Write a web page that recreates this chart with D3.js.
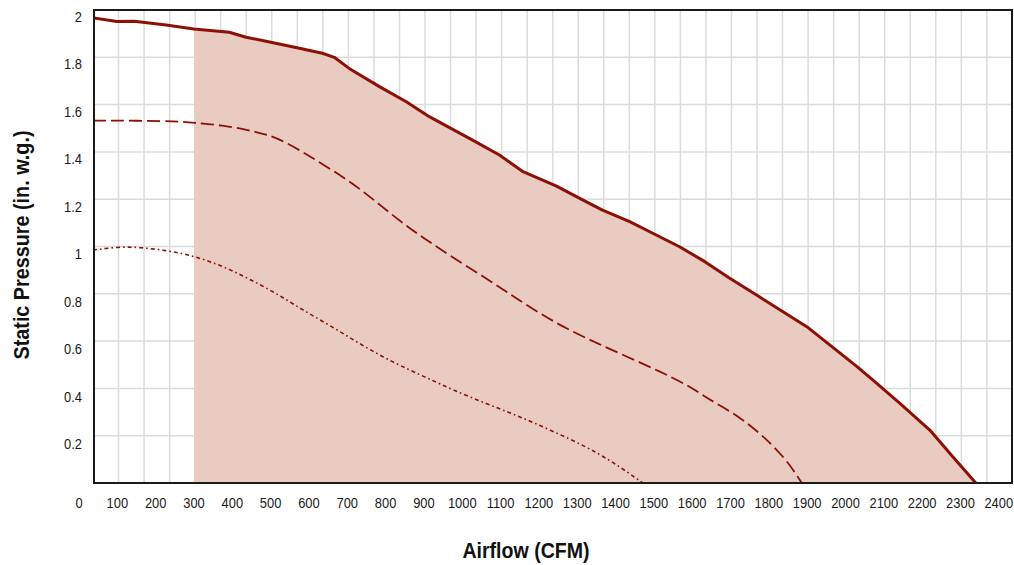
<!DOCTYPE html>
<html><head><meta charset="utf-8">
<script src="https://cdn.jsdelivr.net/npm/d3@7"></script>
<style>html,body{margin:0;padding:0;background:#fff;} svg{display:block;}</style>
</head><body><svg id="chart" width="1014" height="565"></svg>
<script>
// ---------- data ----------
const airflowTicks = [0,100,200,300,400,500,600,700,800,900,1000,1100,1200,1300,1400,1500,1600,1700,1800,1900,2000,2100,2200,2300,2400];
const pressureTicks = [0.2,0.4,0.6,0.8,1,1.2,1.4,1.6,1.8,2];
const pressureTickLabels = ["0.2","0.4","0.6","0.8","1","1.2","1.4","1.6","1.8","2"];

// Max speed curve (solid)
const maxAirflow  = [36.6,99,144,227,300,392,436,488,575,635,666,705,784,854,914,1027,1097,1157,1246,1314,1366,1437,1497,1567,1633,1698,1768,1899,2030,2071,2142,2220,2280,2340];
const maxPressure = [1.967,1.951,1.952,1.937,1.920,1.906,1.885,1.868,1.838,1.817,1.800,1.753,1.676,1.612,1.549,1.450,1.387,1.318,1.255,1.197,1.154,1.105,1.056,0.999,0.936,0.866,0.795,0.661,0.492,0.436,0.337,0.224,0.111,0];

// Medium speed curve (dashed)
const medAirflow  = [36.6,235,300,392,470,515,583,653,724,791,862,914,974,1053,1123,1194,1272,1350,1429,1515,1588,1630,1672,1724,1776,1795,1847,1886];
const medPressure = [1.532,1.532,1.523,1.510,1.481,1.462,1.401,1.331,1.256,1.168,1.077,1.020,0.955,0.875,0.800,0.725,0.652,0.592,0.535,0.472,0.414,0.368,0.328,0.278,0.210,0.182,0.097,0];

// Low speed curve (dash-dot)
const lowAirflow  = [36.6,104,157,235,300,374,444,515,583,653,724,791,862,914,974,1063,1149,1235,1324,1384,1429,1471];
const lowPressure = [0.985,0.999,0.997,0.982,0.960,0.918,0.863,0.802,0.732,0.668,0.597,0.534,0.478,0.440,0.395,0.335,0.282,0.220,0.153,0.097,0.048,0];

const operatingMinAirflow = 300;
const xTitle = "Airflow (CFM)";
const yTitle = "Static Pressure (in. w.g.)";

// ---------- layout ----------
const box = {left:94, right:1012, top:10, bottom:483};
const x = d3.scaleLinear().domain([0,2400]).range([79, 998.8]);
const y = d3.scaleLinear().domain([0,2]).range([box.bottom, box.top]);
const gridX = d3.scaleLinear().domain([0,36]).range([93, 1012.4]);
const yLabel = d3.scaleLinear().domain([0.2,2]).range([449, 21.7]);

const lineColor = "#8c1005";
const fillColor = "#e9cbc2";
const gridColor = "#dcdcdc";
const font = "'Liberation Sans', Arial, sans-serif";
const squeeze = 0.89;

const svg = d3.select("#chart");
svg.append("defs").append("clipPath").attr("id","plotClip")
  .append("rect").attr("x",box.left).attr("y",box.top)
  .attr("width",box.right-box.left).attr("height",box.bottom-box.top);

// grid
const grid = svg.append("g");
grid.selectAll("line.v").data(d3.range(1,36)).join("line")
  .attr("x1",d=>gridX(d)).attr("x2",d=>gridX(d))
  .attr("y1",box.top).attr("y2",box.bottom)
  .attr("stroke",gridColor).attr("stroke-width",1.5);
grid.selectAll("line.h").data(pressureTicks.filter(v=>v<2)).join("line")
  .attr("x1",box.left).attr("x2",box.right)
  .attr("y1",d=>y(d)).attr("y2",d=>y(d))
  .attr("stroke",gridColor).attr("stroke-width",1.5);

const zip = (a,b)=>a.map((v,i)=>[v,b[i]]);
const maxData = zip(maxAirflow,maxPressure);
const medData = zip(medAirflow,medPressure);
const lowData = zip(lowAirflow,lowPressure);

// operating area fill
const interp = (data, xv) => {
  for (let i=1;i<data.length;i++){
    if (data[i][0] >= xv){
      const [x0,y0] = data[i-1], [x1,y1] = data[i];
      return y0 + (y1-y0)*(xv-x0)/(x1-x0);
    }
  }
  return data[data.length-1][1];
};
const fillData = [[operatingMinAirflow, interp(maxData, operatingMinAirflow)]]
  .concat(maxData.filter(d=>d[0]>operatingMinAirflow));
const plot = svg.append("g").attr("clip-path","url(#plotClip)");
plot.append("path").datum(fillData)
  .attr("d", d3.area().x(d=>x(d[0])).y0(y(0)).y1(d=>y(d[1])))
  .attr("fill", fillColor);

const lineSmooth = d3.line().x(d=>x(d[0])).y(d=>y(d[1])).curve(d3.curveBasis);
const lineLin = d3.line().x(d=>x(d[0])).y(d=>y(d[1]));

plot.append("path").datum(lowData).attr("d",lineSmooth)
  .attr("fill","none").attr("stroke",lineColor).attr("stroke-width",1.6)
  .attr("stroke-dasharray","4,3,1.6,3");
plot.append("path").datum(medData).attr("d",lineSmooth)
  .attr("fill","none").attr("stroke",lineColor).attr("stroke-width",1.8)
  .attr("stroke-dasharray","13,5");
plot.append("path").datum(maxData).attr("d",lineLin)
  .attr("fill","none").attr("stroke",lineColor).attr("stroke-width",3)
  .attr("stroke-linejoin","round");

// border
svg.append("rect").attr("x",box.left).attr("y",box.top)
  .attr("width",box.right-box.left).attr("height",box.bottom-box.top)
  .attr("fill","none").attr("stroke","#1a1a1a").attr("stroke-width",2);

// tick labels
svg.append("g").selectAll("text").data(airflowTicks).join("text")
  .attr("transform",d=>`translate(${x(d)},508.3) scale(${squeeze},1)`)
  .attr("text-anchor","middle")
  .style("font-family",font).style("font-size","14.5px").attr("fill","#1a1a1a")
  .text(d=>d);
svg.append("g").selectAll("text").data(pressureTicks).join("text")
  .attr("transform",d=>`translate(82,${yLabel(d)}) scale(${squeeze},1)`)
  .attr("text-anchor","end")
  .style("font-family",font).style("font-size","14.5px").attr("fill","#1a1a1a")
  .text((d,i)=>pressureTickLabels[i]);

// titles
svg.append("text")
  .attr("transform",`translate(526,558.3) scale(${squeeze},1)`)
  .attr("text-anchor","middle")
  .style("font-family",font).style("font-size","22px").style("font-weight","bold")
  .attr("fill","#111").text(xTitle);
svg.append("text")
  .attr("transform",`translate(29,245) rotate(-90) scale(0.9,1)`)
  .attr("text-anchor","middle")
  .style("font-family",font).style("font-size","22px").style("font-weight","bold")
  .attr("fill","#111").text(yTitle);
</script></body></html>
